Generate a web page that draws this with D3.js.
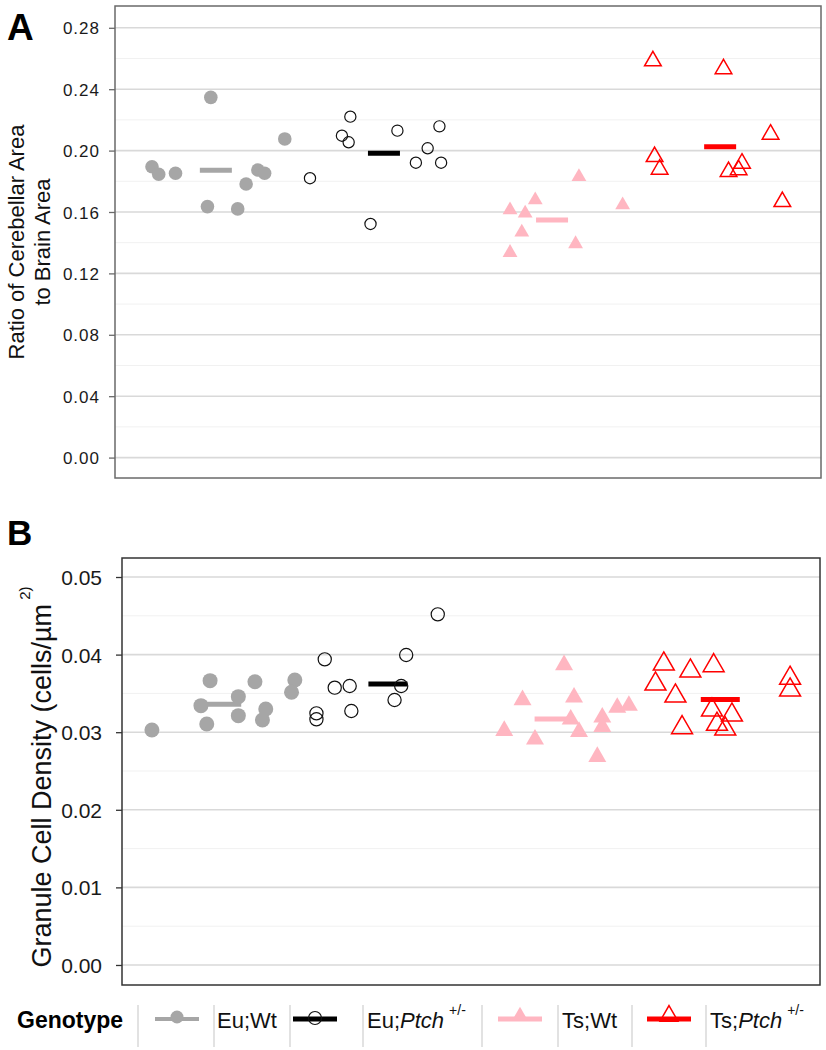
<!DOCTYPE html>
<html>
<head>
<meta charset="utf-8">
<script src="https://cdn.jsdelivr.net/npm/d3@7"></script>
<style>
  html, body { margin: 0; padding: 0; background: #fff; }
  svg { display: block; font-family: "Liberation Sans", Arial, sans-serif; }
</style>
</head>
<body>
<svg id="chart" width="826" height="1050"></svg>
<script>
// ---------- DATA ----------
const genotypes = ["Eu;Wt", "Eu;Ptch+/-", "Ts;Wt", "Ts;Ptch+/-"];
const colors = ["#a6a6a6", "#000000", "#ffb6c1", "#ff0000"];

// Panel A: [jittered group position, ratio]
const ratioEuWt = [[0.62,0.1895],[0.66,0.1846],[0.76,0.1852],[0.97,0.2347],[0.95,0.1635],[1.13,0.1620],[1.18,0.1782],[1.25,0.1874],[1.29,0.1852],[1.41,0.2076]];
const ratioEuPtch = [[1.56,0.1820],[1.75,0.2097],[1.80,0.2221],[1.79,0.2054],[1.92,0.1522],[2.08,0.2130],[2.19,0.1921],[2.26,0.2015],[2.33,0.2158],[2.34,0.1921]];
const ratioTsWt = [[3.16,0.1830],[2.90,0.1678],[2.75,0.1613],[2.84,0.1592],[3.42,0.1646],[2.82,0.1468],[2.75,0.1335],[3.14,0.1392]];
const ratioTsPtch = [[3.60,0.2584],[4.02,0.2532],[4.30,0.2106],[3.61,0.1960],[3.64,0.1878],[4.05,0.1863],[4.11,0.1874],[4.13,0.1917],[4.37,0.1667]];
const ratioMeans = [0.1872, 0.1982, 0.1548, 0.2025];
const ratioTicks = [0.00, 0.04, 0.08, 0.12, 0.16, 0.20, 0.24, 0.28];

// Panel B: [jittered group position, density]
const densEuWt = [[0.58,0.03028],[0.93,0.03664],[0.875,0.03342],[0.91,0.03106],[1.10,0.03458],[1.10,0.03213],[1.20,0.03651],[1.265,0.03299],[1.245,0.03157],[1.44,0.03673],[1.42,0.03514]];
const densEuPtch = [[1.62,0.03939],[1.68,0.03574],[1.77,0.03595],[1.57,0.03243],[1.57,0.03166],[1.78,0.03273],[2.04,0.03415],[2.08,0.03595],[2.11,0.03995],[2.30,0.04519]];
const densTsWt = [[3.06,0.03866],[2.81,0.03415],[3.12,0.03450],[2.70,0.03019],[2.885,0.02908],[3.10,0.03166],[3.15,0.03006],[3.29,0.03192],[3.29,0.03071],[3.38,0.03316],[3.45,0.03342],[3.26,0.02684]];
const densTsPtch = [[3.66,0.03879],[3.82,0.03789],[3.96,0.03857],[3.61,0.03621],[3.73,0.03466],[3.77,0.03058],[3.95,0.03286],[4.07,0.03222],[3.98,0.03102],[4.03,0.03041],[4.42,0.03695],[4.42,0.03544]];
const densMeans = [0.0336, 0.0362, 0.0317, 0.0342];
const densTicks = [0.00, 0.01, 0.02, 0.03, 0.04, 0.05];

// ---------- DRAW ----------
const svg = d3.select("#chart");

function panel(cfg) {
  const x = d3.scaleLinear().domain([0.4, 4.6]).range([cfg.left, cfg.right]);
  const y = d3.scaleLinear().domain(cfg.yDomain).range([cfg.bottom, cfg.top]);
  const g = svg.append("g");

  // minor grid
  g.selectAll("line.minor").data(cfg.minor).join("line")
    .attr("x1", cfg.left).attr("x2", cfg.right)
    .attr("y1", d => y(d)).attr("y2", d => y(d))
    .attr("stroke", "#f1f1f1").attr("stroke-width", 1);
  // major grid
  g.selectAll("line.major").data(cfg.ticks).join("line")
    .attr("x1", cfg.left).attr("x2", cfg.right)
    .attr("y1", d => y(d)).attr("y2", d => y(d))
    .attr("stroke", "#d9d9d9").attr("stroke-width", 1.6);

  // axis
  const ax = g.append("g").attr("transform", `translate(${cfg.left},0)`)
    .call(d3.axisLeft(y).tickValues(cfg.ticks).tickFormat(d3.format(".2f")).tickSize(6).tickPadding(cfg.pad));
  ax.select(".domain").remove();
  ax.selectAll(".tick line").attr("stroke", cfg.frame).attr("stroke-width", 1.3);
  ax.selectAll(".tick text").attr("fill", "#1a1a1a")
    .style("font-size", cfg.tickFont + "px")
    .style("letter-spacing", cfg.tickSpacing + "px")
    .attr("dy", "0.36em");

  const sets = cfg.sets;
  // mean bars
  g.selectAll("line.mean").data(cfg.means).join("line")
    .attr("x1", (d, i) => x(i + 1) - cfg.barHalf).attr("x2", (d, i) => x(i + 1) + cfg.barHalf)
    .attr("y1", d => y(d)).attr("y2", d => y(d))
    .attr("stroke", (d, i) => colors[i]).attr("stroke-width", 5);

  // points
  sets.forEach((pts, i) => {
    if (i === 0 || i === 1) {
      g.selectAll(null).data(pts).join("circle")
        .attr("cx", d => x(d[0])).attr("cy", d => y(d[1]))
        .attr("r", i === 0 ? cfg.rFill : cfg.rOpen)
        .attr("fill", i === 0 ? colors[0] : "none")
        .attr("stroke", i === 0 ? "none" : "#111")
        .attr("stroke-width", 1.2);
    } else {
      const sym = d3.symbol().type(d3.symbolTriangle).size(i === 2 ? cfg.triFill : cfg.triOpen);
      g.selectAll(null).data(pts).join("path")
        .attr("d", sym)
        .attr("transform", d => `translate(${x(d[0])},${y(d[1])})`)
        .attr("fill", i === 2 ? colors[2] : "none")
        .attr("stroke", i === 2 ? "none" : colors[3])
        .attr("stroke-width", 1.5);
    }
  });

  // frame
  g.append("rect")
    .attr("x", cfg.left).attr("y", cfg.top)
    .attr("width", cfg.right - cfg.left).attr("height", cfg.bottom - cfg.top)
    .attr("fill", "none").attr("stroke", cfg.frame).attr("stroke-width", 1.5);
  return { x, y };
}

panel({
  left: 115, right: 821, top: 6, bottom: 478,
  yDomain: [-0.0133, 0.2942],
  ticks: ratioTicks,
  minor: [0.02, 0.06, 0.10, 0.14, 0.18, 0.22, 0.26],
  sets: [ratioEuWt, ratioEuPtch, ratioTsWt, ratioTsPtch],
  means: ratioMeans,
  frame: "#6a6a6a", tickFont: 17, tickSpacing: 1, pad: 9,
  barHalf: 16, rFill: 6.8, rOpen: 5.6, triFill: 95, triOpen: 120
});

panel({
  left: 122, right: 820, top: 558, bottom: 985,
  yDomain: [-0.00258, 0.05245],
  ticks: densTicks,
  minor: [0.005, 0.015, 0.025, 0.035, 0.045],
  sets: [densEuWt, densEuPtch, densTsWt, densTsPtch],
  means: densMeans,
  frame: "#333333", tickFont: 21, tickSpacing: 0, pad: 14,
  barHalf: 19.5, rFill: 7.5, rOpen: 6.6, triFill: 140, triOpen: 190
});

// panel letters
svg.append("text").attr("x", 7).attr("y", 40).text("A")
  .style("font-size", "37px").style("font-weight", "bold");
svg.append("text").attr("x", 7).attr("y", 545).text("B")
  .style("font-size", "35px").style("font-weight", "bold");

// axis titles
const ta = svg.append("text").attr("transform", "translate(0,242) rotate(-90)")
  .attr("text-anchor", "middle").style("font-size", "22px").attr("fill", "#111");
ta.append("tspan").attr("x", 0).attr("y", 24).text("Ratio of Cerebellar Area");
ta.append("tspan").attr("x", 0).attr("y", 50).text("to Brain Area");

const tb = svg.append("text").attr("transform", "translate(51,777) rotate(-90)")
  .attr("text-anchor", "middle").style("font-size", "27px").attr("fill", "#111");
tb.append("tspan").text("Granule Cell Density (cells/µm");
tb.append("tspan").attr("dy", -21).style("font-size", "15px").text("  2)");

// legend
const legY = 1018;
const lg = svg.append("g");
lg.append("text").attr("x", 17).attr("y", 1028).text("Genotype")
  .style("font-size", "23px").style("font-weight", "bold");
const seps = [138, 214, 290, 363, 482, 558, 632, 706];
lg.selectAll("line.sep").data(seps).join("line")
  .attr("x1", d => d).attr("x2", d => d).attr("y1", 1005).attr("y2", 1047)
  .attr("stroke", "#cfcfcf").attr("stroke-width", 1.2);

const keyX = [155, 293, 498, 647];
const labelX = [217, 367, 562, 710];
genotypes.forEach((gname, i) => {
  const x0 = keyX[i], x1 = x0 + 44, cx = (x0 + x1) / 2;
  lg.append("line").attr("x1", x0).attr("x2", x1).attr("y1", legY + 1).attr("y2", legY + 1)
    .attr("stroke", colors[i]).attr("stroke-width", i === 0 ? 4 : 5);
  if (i === 0) {
    lg.append("circle").attr("cx", cx).attr("cy", legY - 1).attr("r", 6.5).attr("fill", colors[0]);
  } else if (i === 1) {
    lg.append("circle").attr("cx", cx).attr("cy", legY).attr("r", 6.5).attr("fill", "none")
      .attr("stroke", "#111").attr("stroke-width", 1.2);
  } else {
    const sym = d3.symbol().type(d3.symbolTriangle).size(i === 2 ? 110 : 140);
    lg.append("path").attr("d", sym).attr("transform", `translate(${cx},${legY - 2})`)
      .attr("fill", i === 2 ? colors[2] : "none")
      .attr("stroke", i === 2 ? "none" : colors[3]).attr("stroke-width", 1.5);
  }
  const t = lg.append("text").attr("x", labelX[i]).attr("y", 1028).style("font-size", "22px").attr("fill", "#111");
  const parts = gname.split(";");
  const geno = parts[1];
  t.append("tspan").text(parts[0] + ";");
  if (geno.indexOf("+/-") >= 0) {
    t.append("tspan").style("font-style", "italic").text(geno.replace("+/-", ""));
    t.append("tspan").attr("dx", 5).attr("dy", -13).style("font-size", "14px").text("+/-");
  } else {
    t.append("tspan").text(geno);
  }
});
</script>
</body>
</html>
